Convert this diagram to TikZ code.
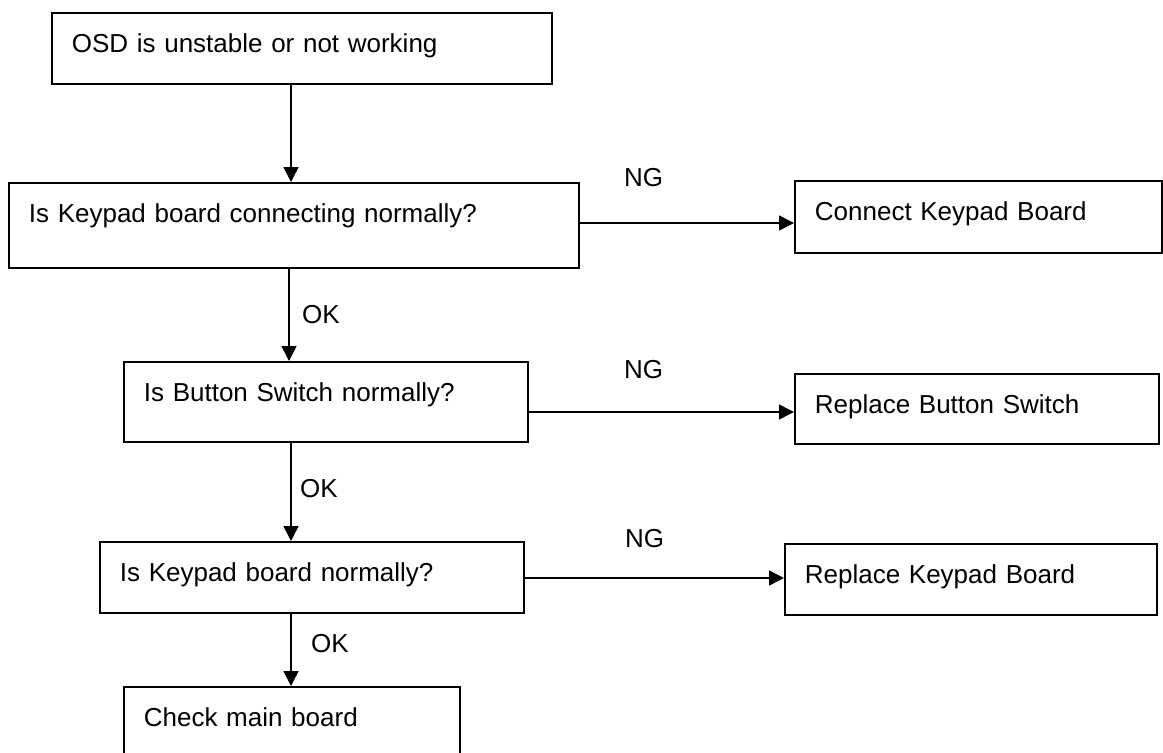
\documentclass[tikz,border=0pt]{standalone}
\usepackage{fontspec}
\setmainfont{Liberation Sans}
\usetikzlibrary{arrows.meta}
\begin{document}
\begin{tikzpicture}[x=1pt,y=-1pt,
  txt/.style={font=\fontsize{26}{31}\selectfont},
  box/.style={txt, draw, line width=1.8pt, inner sep=0pt, anchor=north west, align=left, text height=40pt},
  lbl/.style={txt, inner sep=0pt, anchor=base west},
  arr/.style={line width=1.5pt, -{Triangle[length=15pt,width=15pt]}}]
\useasboundingbox (0,0) rectangle (1163,753);
\fill[white] (0,0) rectangle (1163,753);

\node[box, minimum width=500pt, minimum height=71pt, text width=460pt, text depth=31pt] (b1) at (51,12) {OSD is unstable or not working};
\node[box, minimum width=570pt, minimum height=85pt, text width=530pt, text depth=45pt] (b2) at (8,182) {Is Keypad board connecting normally?};
\node[box, minimum width=404pt, minimum height=80pt, text width=364pt, text depth=40pt] (b3) at (123,361) {Is Button Switch normally?};
\node[box, minimum width=424pt, minimum height=71pt, text width=384pt, text depth=31pt] (b4) at (99,541) {Is Keypad board normally?};
\node[box, minimum width=336pt, minimum height=90pt, text width=296pt, text depth=50pt] (b5) at (123,686) {Check main board};

\node[box, minimum width=367pt, minimum height=72pt, text width=327pt, text depth=32pt] (c1) at (794,180) {Connect Keypad Board};
\node[box, minimum width=364pt, minimum height=70pt, text width=324pt, text depth=30pt] (r1) at (794,373) {Replace Button Switch};
\node[box, minimum width=372pt, minimum height=71pt, text width=332pt, text depth=31pt] (r2) at (784,543) {Replace Keypad Board};

\coordinate (ax) at (291,0);
\coordinate (ax2) at (289,0);
\coordinate (y1) at (0,223);
\coordinate (y2) at (0,412);
\coordinate (y3) at (0,578);

\draw[arr] (b1.south -| ax) -- (b2.north -| ax);
\draw[arr] (b2.south -| ax2) -- (b3.north -| ax2);
\draw[arr] (b3.south -| ax) -- (b4.north -| ax);
\draw[arr] (b4.south -| ax) -- (b5.north -| ax);

\draw[arr] (b2.east |- y1) -- (c1.west |- y1);
\draw[arr] (b3.east |- y2) -- (r1.west |- y2);
\draw[arr] (b4.east |- y3) -- (r2.west |- y3);

\node[lbl] (ng1) at (624,186) {NG};
\node[lbl] (ng2) at (624,378) {NG};
\node[lbl] (ng3) at (625,547) {NG};
\node[lbl] (ok1) at (302,323) {OK};
\node[lbl] (ok2) at (300,497) {OK};
\node[lbl] (ok3) at (311,652) {OK};
\end{tikzpicture}
\end{document}
